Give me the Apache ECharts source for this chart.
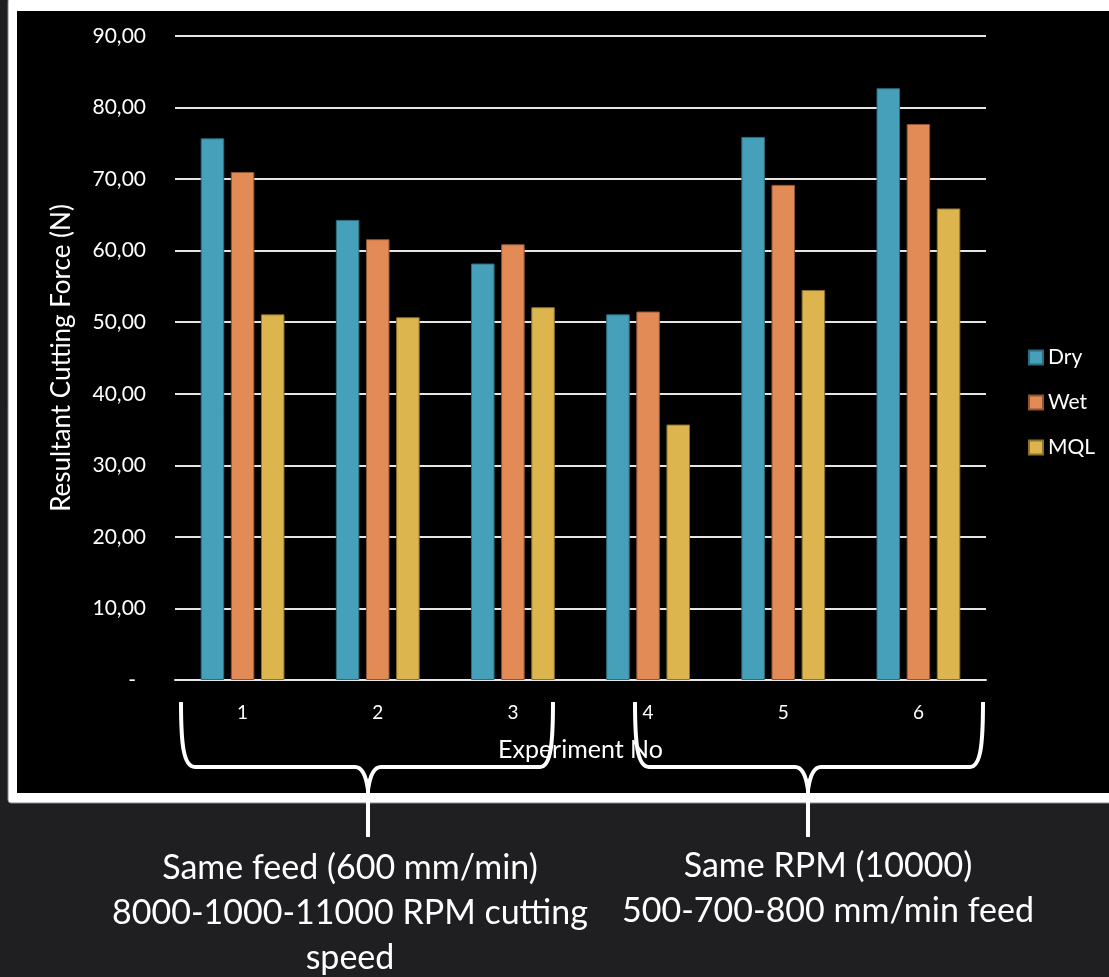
<!DOCTYPE html>
<html>
<head>
<meta charset="utf-8">
<script src="https://cdn.jsdelivr.net/npm/echarts@6/dist/echarts.min.js"></script>
<style>
html,body{margin:0;padding:0;background:#1f1e20;}
#c{width:1109px;height:977px;}
</style>
</head>
<body>
<div id="c"></div>
<script>
var categories = ['1', '2', '3', '4', '5', '6'];
var dryValues = [75.7, 64.3, 58.2, 51.1, 75.9, 82.7];
var wetValues = [71.0, 61.6, 60.9, 51.5, 69.2, 77.7];
var mqlValues = [51.1, 50.7, 52.1, 35.7, 54.5, 65.9];
var yTicks = [0, 10, 20, 30, 40, 50, 60, 70, 80, 90];
var leftNote = ['Same feed (600 mm/min)', '8000-1000-11000 RPM cutting', 'speed'];
var rightNote = ['Same RPM (10000)', '500-700-800 mm/min feed'];

var FONT = 'Lato';
var chart = echarts.init(document.getElementById('c'), null, {renderer: 'canvas'});

function barSeries(name, data, color, border) {
  return {
    name: name, type: 'bar', data: data,
    barGap: '28%', barCategoryGap: '38%',
    itemStyle: {color: color, borderColor: border, borderWidth: 1},
    z: 3
  };
}

var LS = {stroke: '#ffffff', lineWidth: 4, fill: null};
function brace(xl, xc, xr, yTop, yMid, yCusp, yEnd) {
  var els = [];
  function bz(x1, y1, c1x, c1y, c2x, c2y, x2, y2) {
    els.push({type: 'bezierCurve', shape: {x1: x1, y1: y1, cpx1: c1x, cpy1: c1y, cpx2: c2x, cpy2: c2y, x2: x2, y2: y2}, style: LS, z: 50, silent: true});
  }
  function ln(x1, y1, x2, y2) {
    els.push({type: 'line', shape: {x1: x1, y1: y1, x2: x2, y2: y2}, style: LS, z: 50, silent: true});
  }
  bz(xl, yTop, xl, yMid - 25, xl + 2, yMid, xl + 14, yMid);
  ln(xl + 14, yMid, xc - 13, yMid);
  bz(xc - 13, yMid, xc - 6, yMid, xc - 2, yMid + 8, xc, yCusp);
  ln(xc, yCusp, xc, yEnd);
  bz(xc, yCusp, xc + 2, yMid + 8, xc + 6, yMid, xc + 13, yMid);
  ln(xc + 13, yMid, xr - 13, yMid);
  bz(xr - 13, yMid, xr - 2, yMid, xr, yMid - 25, xr, yTop);
  return els;
}

var graphics = [
  {type: 'rect', shape: {x: 8, y: -2, width: 1120, height: 805, r: 3}, style: {fill: '#ffffff', stroke: '#8a8a8a', lineWidth: 1}, z: -10, silent: true},
  {type: 'rect', shape: {x: 17, y: 11, width: 1100, height: 782}, style: {fill: '#000000'}, z: -9, silent: true}
];
graphics = graphics.concat(brace(181, 368, 553, 702, 767, 790, 837));
graphics = graphics.concat(brace(635, 808, 983, 702, 767, 790, 837));
leftNote.forEach(function (t, i) {
  graphics.push({type: 'text', x: 350, y: 868 + i * 45, style: {text: t, fill: '#ffffff', font: '34px ' + FONT, textAlign: 'center', textVerticalAlign: 'middle'}, z: 50});
});
rightNote.forEach(function (t, i) {
  graphics.push({type: 'text', x: 828, y: 866 + i * 45, style: {text: t, fill: '#ffffff', font: '34px ' + FONT, textAlign: 'center', textVerticalAlign: 'middle'}, z: 50});
});

chart.setOption({
  backgroundColor: '#1f1e20',
  animation: false,
  textStyle: {fontFamily: FONT},
  grid: {left: 175, right: 123, top: 36, bottom: 297, containLabel: false},
  legend: {
    orient: 'vertical', left: 1028, top: 347, padding: 0,
    itemWidth: 14, itemHeight: 14, itemGap: 24,
    icon: 'rect',
    textStyle: {color: '#ffffff', fontSize: 21, fontFamily: FONT},
    data: ['Dry', 'Wet', 'MQL']
  },
  xAxis: {
    type: 'category', data: categories,
    name: 'Experiment No', nameLocation: 'middle', nameGap: 57,
    nameTextStyle: {color: '#ffffff', fontSize: 25, fontFamily: FONT},
    axisLine: {show: true, lineStyle: {color: '#e6e6e6', width: 2}},
    axisTick: {show: false},
    axisLabel: {color: '#ffffff', fontSize: 19, margin: 23, fontFamily: FONT}
  },
  yAxis: {
    type: 'value', min: 0, max: 90, interval: 10,
    name: 'Resultant Cutting Force (N)', nameLocation: 'middle', nameGap: 100,
    nameTextStyle: {color: '#ffffff', fontSize: 26, fontFamily: FONT},
    axisLine: {show: false}, axisTick: {show: false},
    splitLine: {show: true, lineStyle: {color: '#e6e6e6', width: 2}},
    axisLabel: {color: '#ffffff', fontSize: 21, margin: 29, fontFamily: FONT,
      formatter: function (v) {
        if (yTicks.indexOf(v) < 0) return '';
        return v === 0 ? '{d|-}' : v.toFixed(2).replace('.', ',');
      },
      rich: {d: {color: '#ffffff', fontSize: 21, fontFamily: FONT, padding: [0, 10, 0, 0]}}}
  },
  series: [
    barSeries('Dry', dryValues, '#46a0b9', '#2d6c7d'),
    barSeries('Wet', wetValues, '#e38b56', '#8e5433'),
    barSeries('MQL', mqlValues, '#ddb54e', '#8c7231')
  ],
  graphic: graphics
});
</script>
</body>
</html>
